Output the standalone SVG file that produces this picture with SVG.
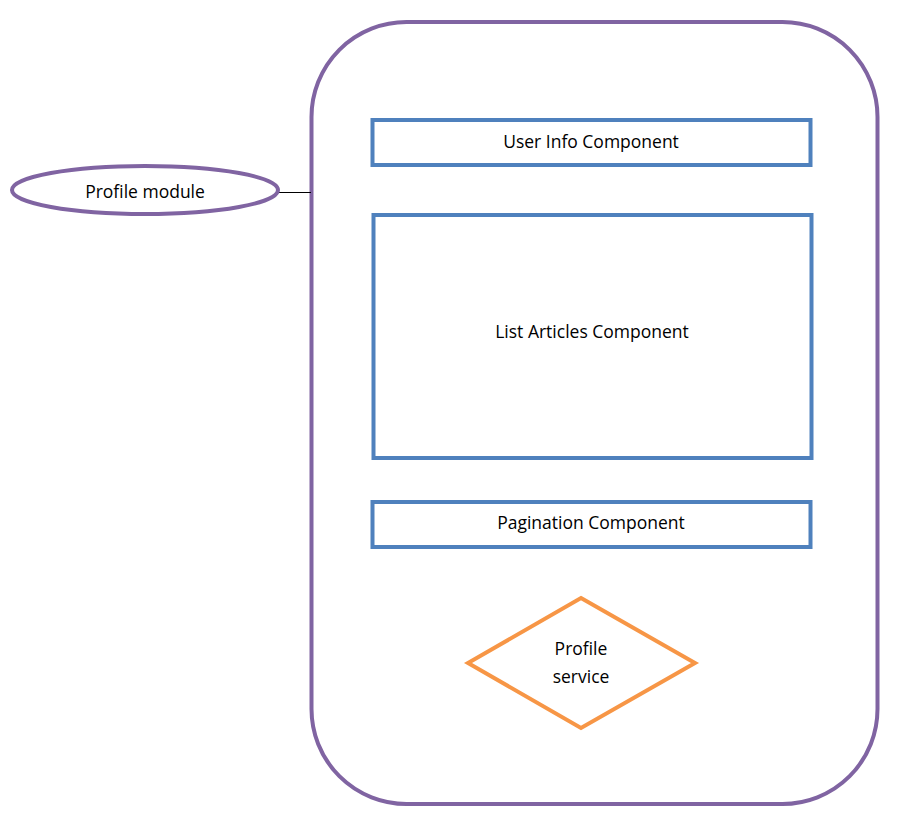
<svg xmlns="http://www.w3.org/2000/svg" width="899" height="823" viewBox="0 0 899 823">
<style>
text{font-family:"Open Sans","Liberation Sans",sans-serif;font-size:17.5px;fill:#000;text-anchor:middle}
.p{fill:#fff;stroke:#8064A2;stroke-width:4}
.b{fill:none;stroke:#4F81BD;stroke-width:4}
.o{fill:none;stroke:#F79646;stroke-width:4}
</style>
<rect width="899" height="823" fill="#fff"/>
<g id="profile-container"><rect class="p" x="311.5" y="22" width="566" height="782" rx="95" ry="95"/></g>
<g id="connectors"><line x1="278" y1="192.5" x2="311" y2="192.5" stroke="#000" stroke-width="1"/></g>
<g id="profile-module"><ellipse class="p" cx="145" cy="190" rx="133" ry="24"/><text x="145" y="198">Profile module</text></g>
<g id="user-info"><rect class="b" x="372.5" y="120" width="438" height="45"/><text x="591" y="148">User Info Component</text></g>
<g id="list-articles"><rect class="b" x="373.5" y="215" width="438" height="243"/><text x="592" y="338">List Articles Component</text></g>
<g id="pagination"><rect class="b" x="372.5" y="502" width="438" height="45"/><text x="591" y="529">Pagination Component</text></g>
<g id="profile-service"><polygon class="o" points="581,598 695,663 581,728 468,663"/><text x="581" y="655">Profile</text><text x="581" y="683">service</text></g>
</svg>
